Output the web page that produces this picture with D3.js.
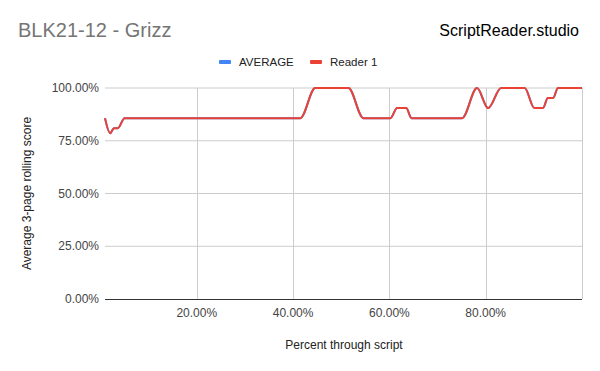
<!DOCTYPE html>
<html>
<head>
<meta charset="utf-8">
<script src="https://cdn.jsdelivr.net/npm/d3@7"></script>
<style>
  body { margin: 0; background: #fff; }
  text { font-family: Arial, "Liberation Sans", sans-serif; }
</style>
</head>
<body>
<div id="chart"></div>
<script>
// percent through script (x) and 3-page rolling score (y)
var pct = [0.94, 2.0, 2.8, 3.6, 5.0, 41.5, 44.6, 51.5, 54.6, 60.2, 61.6, 63.5, 64.6, 75.1, 78.2, 80.5, 83.2, 88.1, 90.1, 91.9, 92.9, 94.0, 95.0, 100];
var reader1 = [85.71, 78.57, 80.95, 80.95, 85.71, 85.71, 100, 100, 85.71, 85.71, 90.48, 90.48, 85.71, 85.71, 100, 90.48, 100, 100, 90.48, 90.48, 95.24, 95.24, 100, 100];
var average = reader1.slice(0); // only one reader, so the average is the same line
var yTicks = [0, 25, 50, 75, 100];
var xTicks = [20, 40, 60, 80];
var seriesNames = ["AVERAGE", "Reader 1"];
var seriesColors = ["#4285f4", "#ea4335"];

var width = 600, height = 371;
var margin = {top: 88, right: 18, bottom: 72, left: 105};

var svg = d3.select("#chart").append("svg")
    .attr("width", width)
    .attr("height", height);

var x = d3.scaleLinear()
    .domain([pct[0], 100])
    .range([margin.left, width - margin.right]);
var y = d3.scaleLinear()
    .domain([0, 100])
    .range([height - margin.bottom, margin.top]);

// titles
svg.append("text")
    .attr("x", 18).attr("y", 37)
    .attr("font-size", 20)
    .attr("fill", "#757575")
    .text("BLK21-12 - Grizz");
svg.append("text")
    .attr("x", 579).attr("y", 36)
    .attr("text-anchor", "end")
    .attr("font-size", 16)
    .attr("fill", "#000")
    .text("ScriptReader.studio");

// legend
var legend = svg.selectAll(".legend")
    .data(seriesNames)
  .enter().append("g")
    .attr("class", "legend")
    .attr("transform", function(d, i) {return "translate(" + [219, 310][i] + ",62)";});
legend.append("rect")
    .attr("x", 0).attr("y", -2)
    .attr("width", 12).attr("height", 4)
    .attr("rx", 1)
    .attr("fill", function(d, i) {return seriesColors[i];});
legend.append("text")
    .attr("x", 20).attr("y", 4)
    .attr("font-size", 11.5)
    .attr("fill", "#222")
    .text(function(d) {return d;});

// grid
svg.selectAll(".hgrid")
    .data(yTicks.filter(function(d) {return d > 0;}))
  .enter().append("line")
    .attr("x1", margin.left).attr("x2", width - margin.right)
    .attr("y1", function(d) {return y(d);}).attr("y2", function(d) {return y(d);})
    .attr("stroke", "#cccccc");
svg.selectAll(".vgrid")
    .data(xTicks.concat([100]))
  .enter().append("line")
    .attr("x1", function(d) {return Math.round(x(d)) + 0.5;})
    .attr("x2", function(d) {return Math.round(x(d)) + 0.5;})
    .attr("y1", margin.top).attr("y2", height - margin.bottom)
    .attr("stroke", "#cccccc");

// axes labels
svg.selectAll(".ylab")
    .data(yTicks)
  .enter().append("text")
    .attr("x", 99)
    .attr("y", function(d) {return y(d) + 4;})
    .attr("text-anchor", "end")
    .attr("font-size", 12)
    .attr("fill", "#444")
    .text(function(d) {return d.toFixed(2) + "%";});
svg.selectAll(".xlab")
    .data(xTicks)
  .enter().append("text")
    .attr("x", function(d) {return x(d);})
    .attr("y", 317)
    .attr("text-anchor", "middle")
    .attr("font-size", 12)
    .attr("fill", "#444")
    .text(function(d) {return d.toFixed(2) + "%";});

svg.append("text")
    .attr("x", 344).attr("y", 349)
    .attr("text-anchor", "middle")
    .attr("font-size", 12)
    .attr("fill", "#222")
    .text("Percent through script");
svg.append("text")
    .attr("transform", "translate(31," + (y(50)) + ")rotate(-90)")
    .attr("text-anchor", "middle")
    .attr("font-size", 12)
    .attr("fill", "#222")
    .text("Average 3-page rolling score");

// lines
var line = d3.line()
    .x(function(d) {return x(d[0]);})
    .y(function(d) {return y(d[1]);})
    .curve(d3.curveMonotoneX);

[average, reader1].forEach(function(vals, i) {
    svg.append("path")
        .datum(pct.map(function(p, j) {return [p, vals[j]];}))
        .attr("fill", "none")
        .attr("stroke", seriesColors[i])
        .attr("stroke-width", 2)
        .attr("stroke-linejoin", "round")
        .attr("d", line);
});

// baseline
svg.append("line")
    .attr("x1", margin.left).attr("x2", width - margin.right)
    .attr("y1", y(0) + 0.5).attr("y2", y(0) + 0.5)
    .attr("stroke", "#333");
</script>
</body>
</html>
